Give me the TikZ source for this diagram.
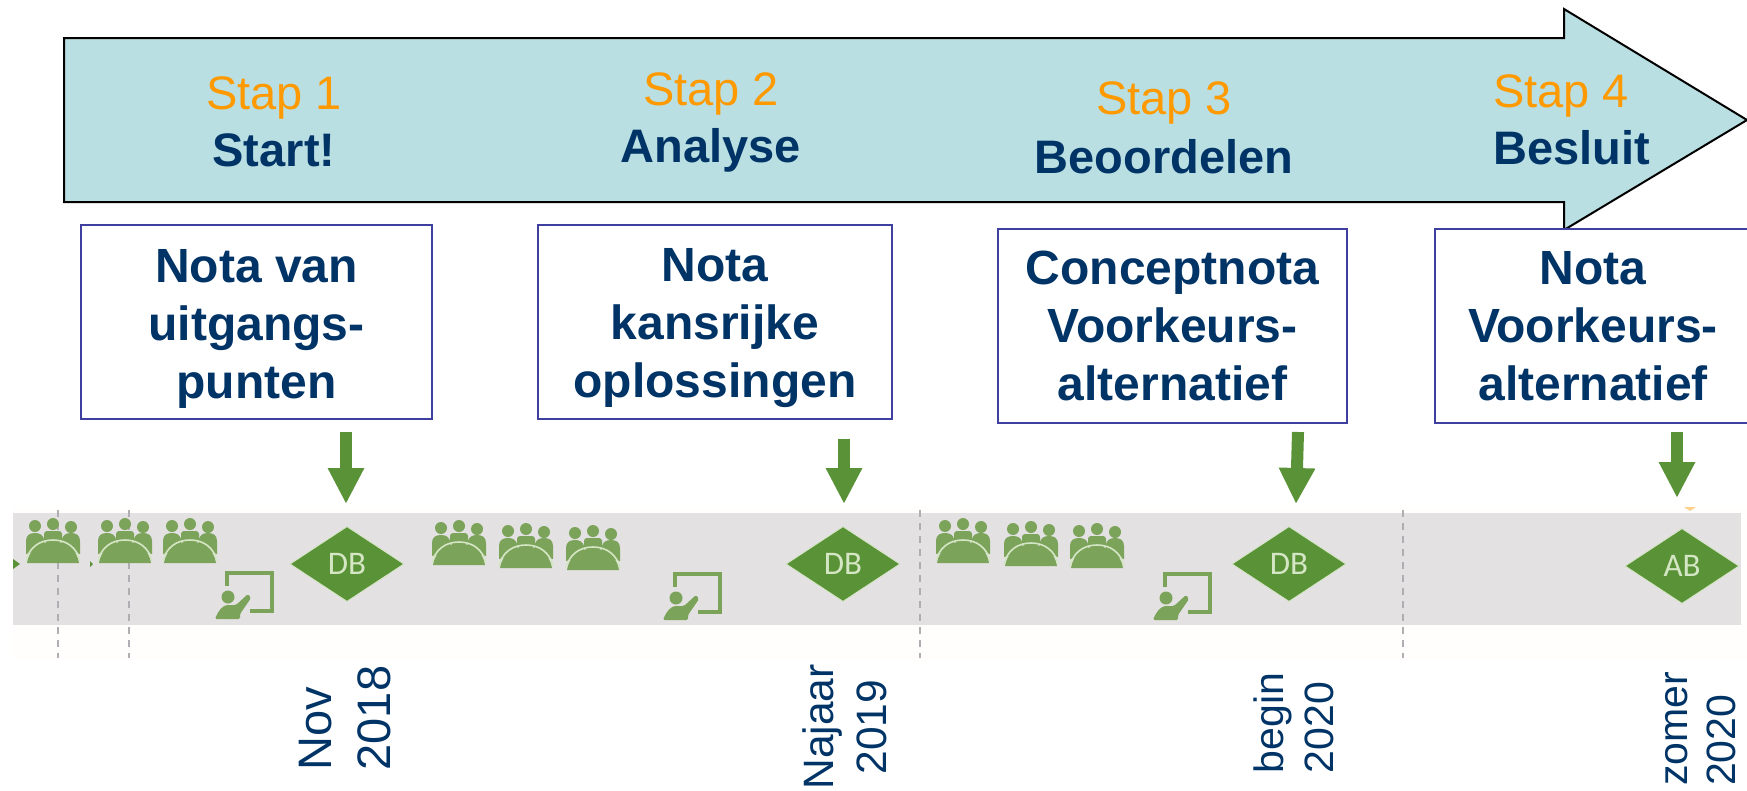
\documentclass[tikz,border=0pt]{standalone}
\usepackage{fontspec}
\setmainfont{Liberation Sans}
\newfontfamily\dbfont{Carlito}
\usepackage{tikz}
\usetikzlibrary{shapes.geometric}
\usetikzlibrary{arrows.meta}

\definecolor{navytext}{HTML}{003366}
\definecolor{staporange}{HTML}{FF9900}
\definecolor{shaftteal}{HTML}{B9DFE2}
\definecolor{boxblue}{HTML}{3F3F9F}
\definecolor{pijlgreen}{HTML}{5A9237}
\definecolor{icongreen}{HTML}{7BA35A}
\definecolor{iconlight}{HTML}{D5E6C4}
\definecolor{bandgrey}{HTML}{E3E1E2}
\definecolor{bandfaint}{HTML}{FFFEFC}
\definecolor{dashgrey}{HTML}{B0AEB3}

\newcommand{\notastrut}{\rule{0pt}{46pt}}

\tikzset{
  mainarrow/.style={draw=black,line width=2pt,fill=shaftteal,line join=miter},
  steplabel/.style={inner sep=0pt,align=center,text=navytext,font=\fontsize{47}{57}\selectfont},
  notabox/.style={draw=boxblue,line width=1.5pt,fill=white,inner sep=0pt,align=center,
    text=navytext,font=\fontsize{48}{58}\selectfont\bfseries},
  downarrow/.style={draw=pijlgreen,line width=12pt,-{Triangle[length=36pt,width=34pt]}},
  besluit/.style={diamond,fill=pijlgreen,draw=iconlight,line width=.8pt,inner sep=0pt,
    minimum width=114pt,minimum height=75pt,text=iconlight,font=\dbfont\fontsize{33}{33}\selectfont},
  datelabel/.style={rotate=90,inner sep=0pt,align=left,text=navytext},
  timedash/.style={draw=dashgrey,line width=1.2pt,dash pattern=on 7pt off 6pt},
  meeting/.pic={
    \fill[icongreen] (-18,-37) circle (6) (0,-39) circle (6) (18,-36) circle (6);
    \fill[icongreen] (-27,-9) -- (-27,-22) .. controls (-27,-28) and (-23,-30) .. (-18,-30)
      .. controls (-13,-30) and (-10,-28) .. (-9,-24) -- (-8,-14) -- cycle;
    \fill[icongreen] (27,-9) -- (27,-22) .. controls (27,-28) and (23,-30) .. (18,-30)
      .. controls (13,-30) and (10,-28) .. (9,-24) -- (8,-14) -- cycle;
    \fill[icongreen,rounded corners=3pt] (-9,-20) -- (-9,-32) -- (9,-32) -- (9,-20) -- cycle;
    \fill[icongreen] (-26,0) .. controls (-24,-13) and (-14,-21) .. (0,-21)
      .. controls (14,-21) and (24,-13) .. (26,0) -- cycle;
    \draw[iconlight,line width=1.6pt] (-27,-2) .. controls (-24,-15) and (-14,-23) .. (0,-23)
      .. controls (14,-23) and (24,-15) .. (27,-2);
  },
  teaching/.pic={
    \draw[icongreen,line width=3.2pt] (12,-33) -- (12,-46) -- (57,-46) -- (57,-8) -- (35,-8);
    \fill[icongreen] (13,-22) circle (6.5);
    \fill[icongreen,rounded corners=1.5pt] (0,0) .. controls (3,-8) and (8,-14) .. (14,-14) -- (21,-14)
      -- (33,-25) -- (36,-21) -- (25,-5) -- (25,0) -- cycle;
  }
}

\begin{document}
\begin{tikzpicture}[x=1pt,y=-1pt]
  \useasboundingbox (0,0) rectangle (1747,790);

  % grote pijl
  \draw[mainarrow] (64,38) -- (1564,38) -- (1564,9) -- (1747,120) -- (1564,230) -- (1564,202) -- (64,202) -- cycle;

  \node[steplabel] (stap1) at (274,122) {\textcolor{staporange}{Stap 1}\\\textbf{Start!}};
  \node[steplabel] (stap2) at (711,122) {\textcolor{staporange}{Stap 2}\\\textbf{Analyse}};
  \node[steplabel,font=\fontsize{47}{59}\selectfont] (stap3) at (1164,128) {\textcolor{staporange}{Stap 3}\\\textbf{Beoordelen}};
  \node[steplabel,align=left,anchor=west] (stap4) at (1493,120) {\textcolor{staporange}{Stap 4}\\\textbf{Besluit}};

  % tijdbalk
  \fill[bandfaint] (13,507) rectangle (1747,660);
  \fill[bandgrey] (13,513) rectangle (1741,625);
  \fill[pijlgreen] (13,559) -- (20,564) -- (13,569) -- cycle;
  \fill[pijlgreen] (90,561) -- (93,564) -- (90,567) -- cycle;
  \fill[staporange!45] (1684,507) -- (1696,507) -- (1690,511) -- cycle;
  \draw[timedash] (58,510) -- (58,658);
  \draw[timedash] (129,510) -- (129,658);
  \draw[timedash] (920,510) -- (920,658);
  \draw[timedash] (1403,510) -- (1403,658);

  % nota's
  \node[notabox,minimum width=351pt,minimum height=194pt] (nota1) at (256.5,322) {\notastrut Nota van\\uitgangs-\\punten};
  \node[notabox,minimum width=354pt,minimum height=194pt] (nota2) at (715,322) {\notastrut Nota\\kansrijke\\oplossingen};
  \node[notabox,minimum width=349pt,minimum height=194pt] (nota3) at (1172.5,326) {Conceptnota\\Voorkeurs-\\alternatief};
  \node[notabox,minimum width=316pt,minimum height=194pt,text width=316pt] (nota4) at (1593,326) {Nota\\Voorkeurs-\\alternatief};

  % beslismomenten
  \node[besluit] (db1) at (347,564) {DB};
  \node[besluit] (db2) at (843,564) {DB};
  \node[besluit] (db3) at (1289,564) {DB};
  \node[besluit] (ab4) at (1682,566) {AB};

  \coordinate (pijl1a) at (346,432);
  \coordinate (pijl1b) at (346,504);
  \coordinate (pijl2a) at (844,439);
  \coordinate (pijl2b) at (844,504);
  \coordinate (pijl3a) at (1298,432);
  \coordinate (pijl3b) at (1296,504);
  \coordinate (pijl4a) at (1677,432);
  \coordinate (pijl4b) at (1677,498);
  \draw[downarrow] (pijl1a) -- (pijl1b);
  \draw[downarrow] (pijl2a) -- (pijl2b);
  \draw[downarrow] (pijl3a) -- (pijl3b);
  \draw[downarrow] (pijl4a) -- (pijl4b);

  % overleggen
  \pic (overleg1) at (53,563) {meeting};
  \pic (overleg2) at (125,563) {meeting};
  \pic (overleg3) at (190,563) {meeting};
  \pic (overleg4) at (459,565) {meeting};
  \pic (overleg5) at (526,568) {meeting};
  \pic (overleg6) at (593,570) {meeting};
  \pic (overleg7) at (963,563) {meeting};
  \pic (overleg8) at (1031,566) {meeting};
  \pic (overleg9) at (1097,568) {meeting};
  \pic (uitleg1) at (215,619) {teaching};
  \pic (uitleg2) at (663,620) {teaching};
  \pic (uitleg3) at (1153,620) {teaching};

  % data
  \node[datelabel,font=\fontsize{47}{59}\selectfont,anchor=center] (datum1) at (345,718) {Nov\\2018};
  \node[datelabel,align=center,font=\fontsize{42.5}{53}\selectfont,anchor=center] (datum2) at (845,727) {Najaar\\2019};
  \node[datelabel,font=\fontsize{41}{50}\selectfont,anchor=center] (datum3) at (1294,723) {begin\\2020};
  \node[datelabel,font=\fontsize{41}{48}\selectfont,anchor=center] (datum4) at (1701,729) {zomer\\2020};
\end{tikzpicture}
\end{document}
